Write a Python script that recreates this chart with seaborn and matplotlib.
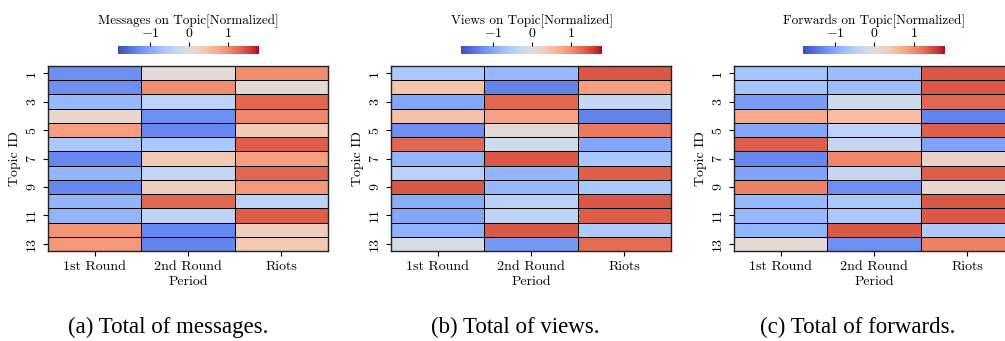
import numpy as np
import pandas as pd
import seaborn as sns
import matplotlib.pyplot as plt

periods = ["1st Round", "2nd Round", "Riots"]
topics = list(range(1, 14))

messages = [
    [-1.25, 0.05, 1.00],
    [-1.25, 1.00, 0.10],
    [-0.80, -0.40, 1.30],
    [0.15, -1.25, 1.05],
    [0.85, -1.30, 0.35],
    [-0.60, -0.60, 1.35],
    [-1.30, 0.40, 0.85],
    [-0.85, -0.35, 1.30],
    [-1.30, 0.30, 0.90],
    [-0.85, 1.30, -0.40],
    [-0.85, -0.40, 1.35],
    [0.95, -1.30, 0.30],
    [0.90, -1.35, 0.40],
]
views = [
    [-0.60, -0.80, 1.40],
    [0.45, -1.35, 0.85],
    [-1.00, 1.30, -0.30],
    [0.50, 0.80, -1.35],
    [-1.25, 0.05, 1.15],
    [1.30, -0.20, -1.00],
    [-0.85, 1.40, -0.60],
    [-0.45, -0.85, 1.35],
    [1.40, -0.80, -0.60],
    [-0.95, -0.45, 1.40],
    [-1.00, -0.40, 1.35],
    [-0.90, 1.40, -0.55],
    [-0.10, -1.15, 1.25],
]
forwards = [
    [-0.65, -0.75, 1.40],
    [-0.65, -0.75, 1.40],
    [-1.10, -0.20, 1.30],
    [0.75, 0.55, -1.35],
    [-1.00, -0.40, 1.35],
    [1.35, -0.30, -1.05],
    [-1.30, 1.05, 0.20],
    [-1.05, -0.30, 1.35],
    [1.10, -1.25, 0.15],
    [-0.80, -0.60, 1.40],
    [-0.80, -0.60, 1.40],
    [-0.85, 1.40, -0.55],
    [0.10, -1.25, 1.10],
]
titles = ["Messages on Topic[Normalized]", "Views on Topic[Normalized]",
          "Forwards on Topic[Normalized]"]
captions = ["(a) Total of messages.", "(b) Total of views.", "(c) Total of forwards."]

plt.rcParams['font.family'] = 'serif'
plt.rcParams['font.serif'] = ['cmr10']
plt.rcParams['mathtext.fontset'] = 'cm'
plt.rcParams['axes.formatter.use_mathtext'] = True

W, H = 1005, 341
fig = plt.figure(figsize=(W / 100, H / 100), dpi=100)

def box(x0, y0, x1, y1):
    return [x0 / W, 1 - y1 / H, (x1 - x0) / W, (y1 - y0) / H]

ax_pos = [(48, 66, 328, 251), (391, 66, 671, 251), (734, 66, 1014, 251)]
cb_pos = [(118, 46, 259, 54), (461, 46, 602, 54), (803, 46, 945, 54)]
cap_x = [168, 515, 858]

for i, vals in enumerate([messages, views, forwards]):
    df = pd.DataFrame(vals, index=topics, columns=periods)
    ax = fig.add_axes(box(*ax_pos[i]))
    cax = fig.add_axes(box(*cb_pos[i]))
    sns.heatmap(df, ax=ax, cbar_ax=cax, cmap='coolwarm', vmin=-1.82, vmax=1.8,
                linewidths=0.6, linecolor='black', yticklabels=2,
                cbar_kws={'orientation': 'horizontal', 'ticks': [-1, 0, 1]})
    for s in ax.spines.values():
        s.set_visible(True)
        s.set_color('#222222')
        s.set_linewidth(1.0)
    ax.set_xlabel("Period", fontsize=10, labelpad=2)
    ax.set_ylabel("Topic ID", fontsize=10)
    ax.tick_params(axis='x', labelsize=10, rotation=0)
    ax.tick_params(axis='y', labelsize=10, rotation=90)
    cax.xaxis.set_ticks_position('top')
    cax.xaxis.set_label_position('top')
    cax.tick_params(labelsize=10, length=3, pad=1)
    cax.set_xlabel(titles[i], fontsize=9.5, labelpad=2)
    ax.collections[0].colorbar.outline.set_visible(False)
    fig.text(cap_x[i] / W, 1 - 327 / H, captions[i], ha='center', va='center',
             fontsize=16.5, family='Liberation Serif')

fig.savefig("out.png", dpi=100)
